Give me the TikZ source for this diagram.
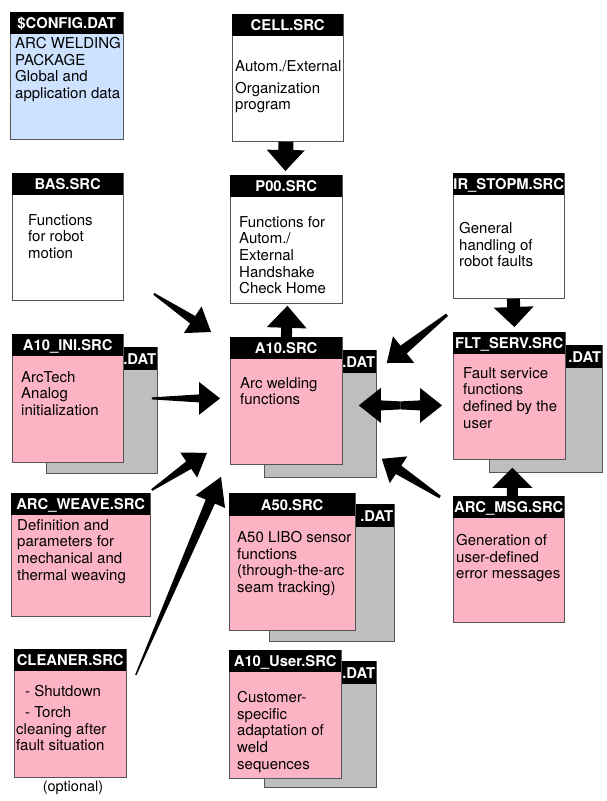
\documentclass[tikz,border=0pt]{standalone}
\usepackage{fontspec}
\setmainfont{TeX Gyre Heros}
\usepackage{tikz}
\usetikzlibrary{calc}

\definecolor{srcpink}{RGB}{252,180,196}
\definecolor{cfgblue}{RGB}{204,226,255}
\definecolor{datgray}{RGB}{190,190,190}
\definecolor{edgegray}{RGB}{85,85,85}

% block arrow: tail, tip, tail half width, shaft half width, head length, head half width
\newcommand{\fatarrow}[6]{%
  \coordinate (hb) at ($(#2)!#5!(#1)$);
  \fill ($(#1)!#3!90:(#2)$) -- ($(hb)!#4!90:(#2)$) -- ($(hb)!#6!90:(#2)$) -- (#2)
    -- ($(hb)!#6!-90:(#2)$) -- ($(hb)!#4!-90:(#2)$) -- ($(#1)!#3!-90:(#2)$) -- cycle;
}

\begin{document}
\begin{tikzpicture}[
  x=1pt, y=-1pt,
  file/.style={draw=edgegray, line width=0.8pt, anchor=north west, inner sep=0pt, minimum width=112pt, minimum height=127pt},
  head/.style={fill=black, text=white, anchor=north west, inner sep=0pt, minimum width=#1, minimum height=22pt, text height=10.6pt, text depth=0pt, font=\bfseries\fontsize{14.8}{16}\selectfont},
  head/.default=112pt,
  dathead/.style={fill=black, text=white, anchor=north west, inner xsep=1pt, inner ysep=0pt, text width=#1, align=right, minimum height=23pt, font=\bfseries\fontsize{14.8}{16}\selectfont},
  dathead/.default=110pt,
  body/.style={anchor=north west, inner sep=0pt, align=left, font=\fontsize{15}{16.7}\selectfont},
]
\useasboundingbox (0,0) rectangle (606,801);

% top row
\node[file, fill=cfgblue, minimum width=113pt] (config) at (10,12) {};
\node[head=113pt] (configh) at (config.north west) {\$CONFIG.DAT};
\node[body] (configt) at ([shift={(5,25)}]config.north west) {ARC WELDING\\PACKAGE\\Global and\\application data};

\node[file, fill=white, minimum width=111pt] (cell) at (232,14) {};
\node[head=111pt] (cellh) at (cell.north west) {CELL.SRC};
\node[body] (cellt) at ([shift={(3,46)}]cell.north west) {Autom./External\\[5.3pt]Organization\\program};

% second row
\node[file, fill=white, minimum width=111pt] (bas) at (12,173) {};
\node[head=111pt] (bash) at (bas.north west) {BAS.SRC};
\node[body] (bast) at ([shift={(16,41)}]bas.north west) {Functions\\for robot\\motion};

\node[file, fill=white, minimum height=128pt] (p00) at (230,175) {};
\node[head] (p00h) at (p00.north west) {P00.SRC};
\node[body] (p00t) at ([shift={(9,41)}]p00.north west) {Functions for\\Autom./\\External\\Handshake\\Check Home};

\node[file, fill=white, minimum width=111pt, minimum height=125pt] (irstop) at (453,173) {};
\node[head=111pt] (irstoph) at (irstop.north west) {IR\_STOPM.SRC};
\node[body] (irstopt) at ([shift={(6,49)}]irstop.north west) {General\\handling of\\robot faults};

% third row
\node[file, fill=datgray, minimum width=111pt, minimum height=126pt] (a10inid) at (46,347) {};
\node[dathead=109pt] (a10inidh) at (a10inid.north west) {.DAT};
\node[file, fill=srcpink, minimum width=111pt, minimum height=128pt] (a10ini) at (12,334) {};
\node[head=111pt] (a10inih) at (a10ini.north west) {A10\_INI.SRC};
\node[body] (a10init) at ([shift={(9,37)}]a10ini.north west) {ArcTech\\Analog\\initialization};

\node[file, fill=datgray] (a10d) at (264,350) {};
\node[dathead] (a10dh) at (a10d.north west) {.DAT};
\node[file, fill=srcpink] (a10) at (230,337) {};
\node[head] (a10h) at (a10.north west) {A10.SRC};
\node[body] (a10t) at ([shift={(10,40)}]a10.north west) {Arc welding\\functions};

\node[file, fill=datgray, minimum width=113pt] (fltd) at (489,345) {};
\node[dathead=111pt] (fltdh) at (fltd.north west) {.DAT};
\node[file, fill=srcpink] (flt) at (453,332) {};
\node[head] (flth) at (flt.north west) {FLT\_SERV.SRC};
\node[body] (fltt) at ([shift={(10,35)}]flt.north west) {Fault service\\functions\\defined by the\\user};

% fourth row
\node[file, fill=srcpink, minimum width=139pt, minimum height=123pt] (weave) at (11,493) {};
\node[head=139pt] (weaveh) at (weave.north west) {ARC\_WEAVE.SRC};
\node[body] (weavet) at ([shift={(6,26)}]weave.north west) {Definition and\\parameters for\\mechanical and\\thermal weaving};

\node[file, fill=datgray, minimum width=125pt, minimum height=137pt] (a50d) at (269,504) {};
\node[dathead=123pt] (a50dh) at (a50d.north west) {.DAT};
\node[file, fill=srcpink, minimum width=126pt, minimum height=137pt] (a50) at (229,493) {};
\node[head=126pt, minimum height=23pt] (a50h) at (a50.north west) {A50.SRC};
\node[body] (a50t) at ([shift={(8,38)}]a50.north west) {A50 LIBO sensor\\functions\\(through-the-arc\\seam tracking)};

\node[file, fill=srcpink, minimum width=111pt, minimum height=126pt] (msg) at (453,496) {};
\node[head=111pt] (msgh) at (msg.north west) {ARC\_MSG.SRC};
\node[body] (msgt) at ([shift={(3,38)}]msg.north west) {Generation of\\user-defined\\error messages};

% bottom row
\node[file, fill=srcpink, minimum height=128pt] (cleaner) at (14,649) {};
\node[head] (cleanerh) at (cleaner.north west) {CLEANER.SRC};
\node[body] (cleanert) at ([shift={(2,36)}]cleaner.north west) {\hspace*{9pt}- Shutdown\\[4.3pt]\hspace*{9pt}- Torch\\cleaning after\\fault situation};
\node[font=\fontsize{14.5}{16}\selectfont, inner sep=0pt] (optional) at (73,788) {(optional)};

\node[file, fill=datgray, minimum height=126pt] (userd) at (264,661) {};
\node[dathead] (userdh) at (userd.north west) {.DAT};
\node[file, fill=srcpink, minimum height=128pt] (user) at (229,650) {};
\node[head] (userh) at (user.north west) {A10\_User.SRC};
\node[body] (usert) at ([shift={(8,41)}]user.north west) {Customer-\\specific\\adaptation of\\weld\\sequences};

% connectors
\coordinate (cellout) at ([xshift=-2pt]cell.south);
\coordinate (p00in) at ([shift={(-1,-4)}]p00.north);
\fatarrow{cellout}{p00in}{7.5pt}{7.5pt}{21pt}{19pt}

\coordinate (p00up) at ([shift={(1,2)}]p00.south);
\fatarrow{a10.north}{p00up}{5.5pt}{5.5pt}{22pt}{20pt}

\coordinate (irdown) at ([xshift=4.5pt]irstop.south);
\coordinate (fltin) at ([shift={(5,-5)}]flt.north);
\fatarrow{irdown}{fltin}{6.5pt}{6.5pt}{20pt}{20pt}

\coordinate (msgup) at ([xshift=3.5pt]msg.north);
\coordinate (fltup) at ([shift={(3,8)}]flt.south);
\fatarrow{msgup}{fltup}{5.5pt}{5.5pt}{20pt}{20pt}

\coordinate (dl) at ([shift={(-18,-8.5)}]a10d.east);
\coordinate (dr) at ([shift={(-11,9.5)}]flt.west);
\coordinate (dm) at ($(dl)!0.5!(dr)$);
\fatarrow{dm}{dl}{4pt}{5pt}{22pt}{17.5pt}
\fatarrow{dm}{dr}{4pt}{5pt}{22pt}{17.5pt}

\coordinate (basout) at ([shift={(30,-7)}]bas.south east);
\coordinate (basin) at ([shift={(-19,-5)}]a10.north west);
\fatarrow{basout}{basin}{1pt}{4.5pt}{22pt}{16pt}

\coordinate (iniout) at ([shift={(-6,-12)}]a10inid.east);
\coordinate (iniin) at ([shift={(-10,-2.5)}]a10.west);
\fatarrow{iniout}{iniin}{1pt}{4pt}{21pt}{16.5pt}

\coordinate (weaveout) at ([shift={(1,-3)}]weave.north east);
\coordinate (weavein) at ([shift={(-23,-12)}]a10.south west);
\fatarrow{weaveout}{weavein}{1pt}{4.5pt}{22pt}{15pt}

\coordinate (cleanout) at ([shift={(9,26)}]cleaner.north east);
\coordinate (cleanin) at ([shift={(-9,12)}]a10.south west);
\fatarrow{cleanout}{cleanin}{0.7pt}{5pt}{27pt}{16pt}

\coordinate (irout) at ([shift={(-6,16)}]irstop.south west);
\coordinate (irin) at ([shift={(10,13)}]a10d.north east);
\fatarrow{irout}{irin}{1.5pt}{5pt}{21.5pt}{17pt}

\coordinate (msgout) at ([shift={(-13,1)}]msg.north west);
\coordinate (msgin) at ([shift={(5,-19)}]a10d.south east);
\fatarrow{msgout}{msgin}{1.5pt}{5pt}{20pt}{16pt}
\end{tikzpicture}
\end{document}
